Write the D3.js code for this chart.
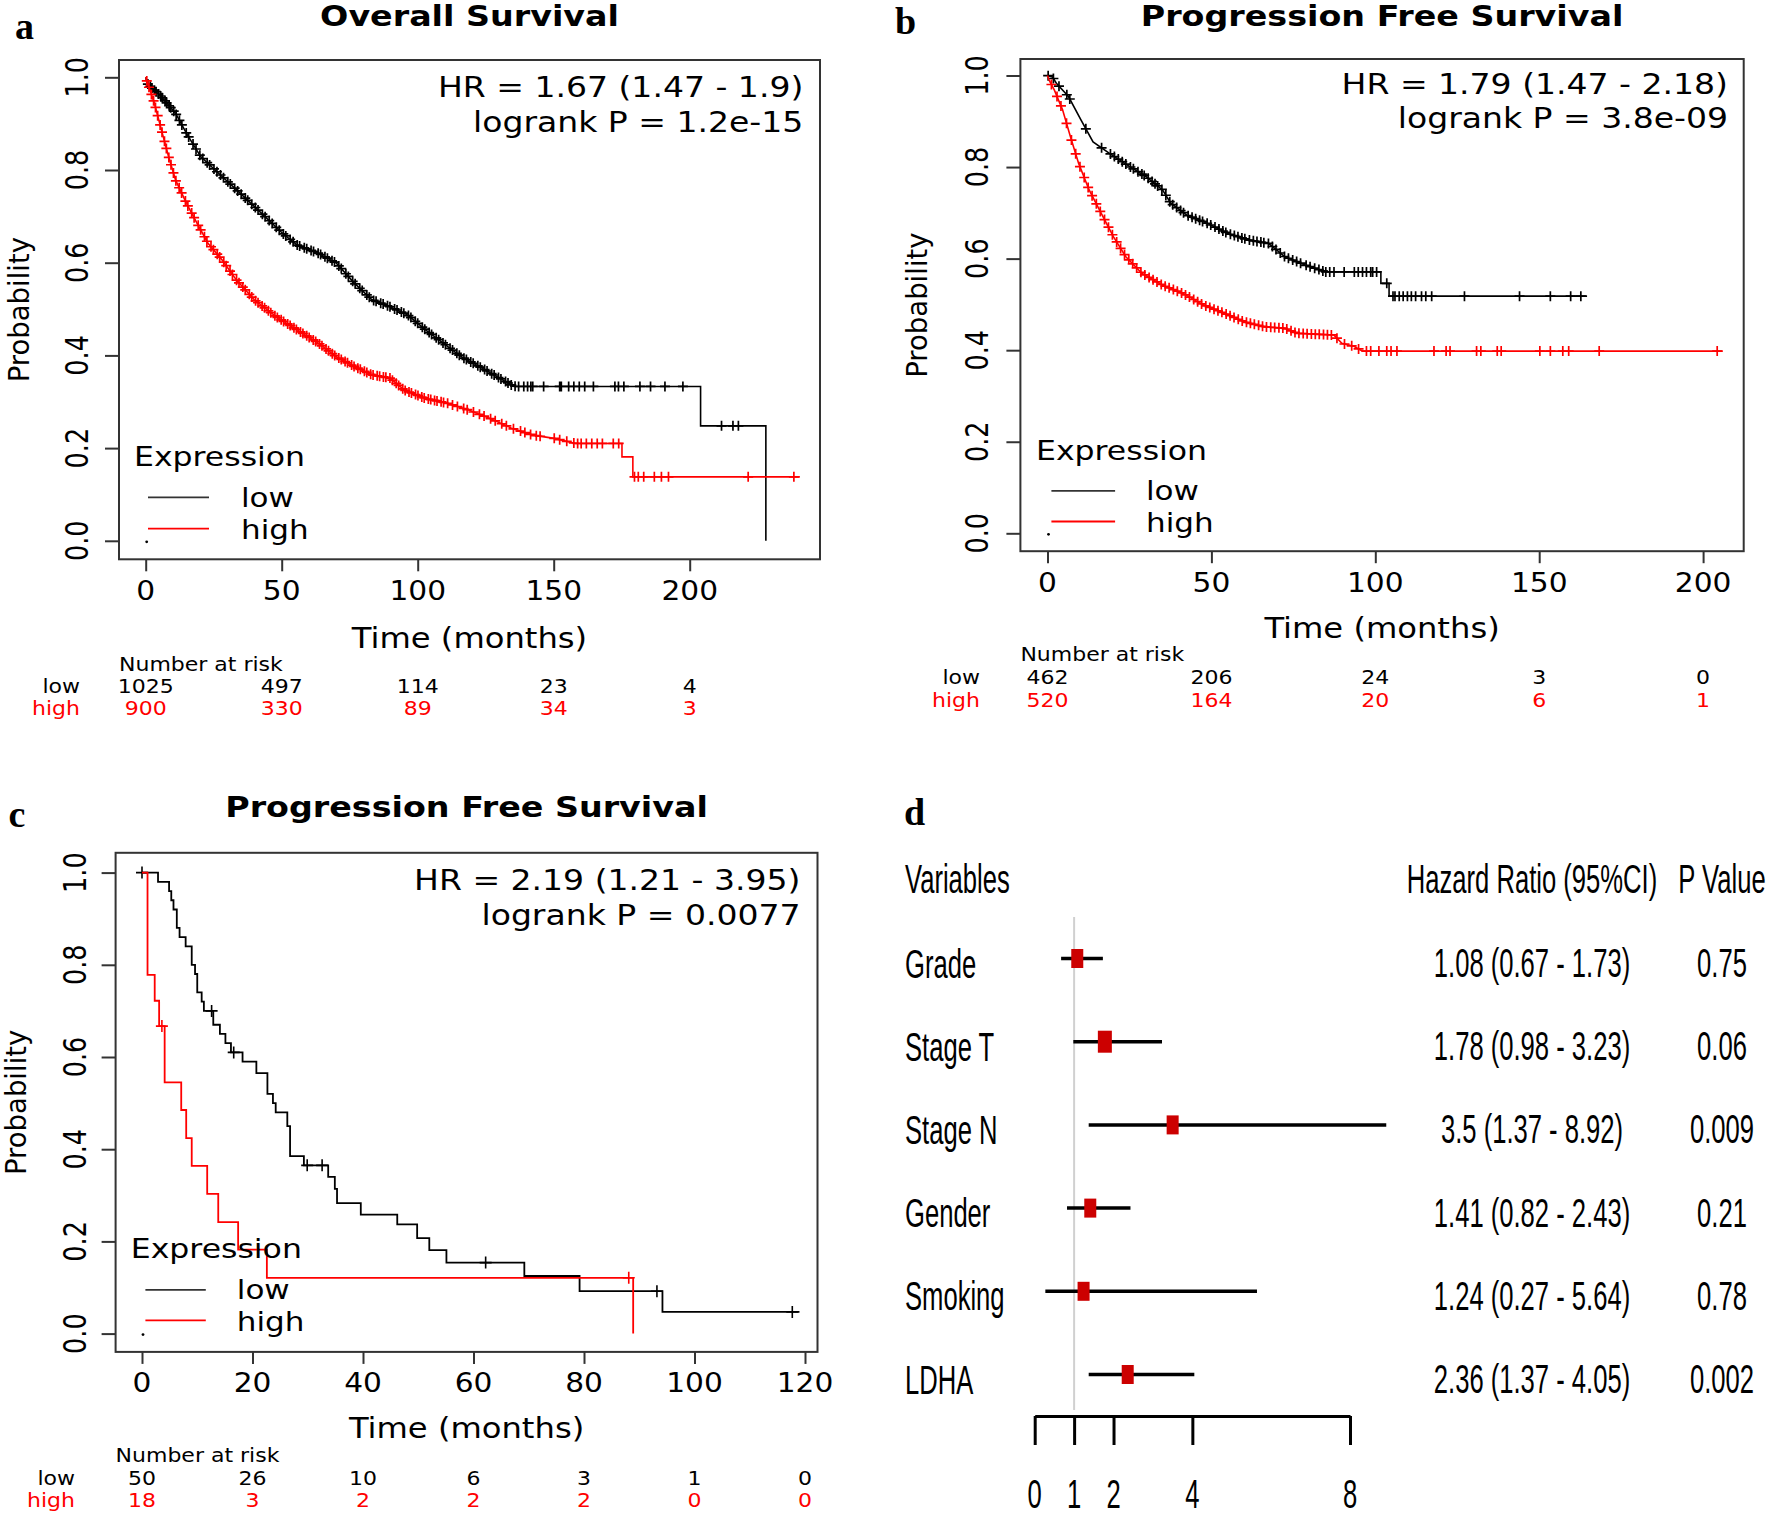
<!DOCTYPE html>
<html><head><meta charset="utf-8">
<script src="https://cdn.jsdelivr.net/npm/d3@7"></script>
<style>body{margin:0;background:#fff}svg{display:block}</style>
</head><body>
<svg id="fig" width="1768" height="1517"></svg>
<script>
// ---------------- DATA ----------------
// Panel a: Overall Survival (time in months, survival probability)
const osLow = [[0,1],[0.5,0.987],[5.8,0.958],[11,0.922],[15,0.879],[20.2,0.829],[26.8,0.793],[34.7,0.75],[42.5,0.707],[50.4,0.663],[55.7,0.638],[63.6,0.62],[70.1,0.599],[76.7,0.556],[83.2,0.52],[89.8,0.505],[96.4,0.487],[102.9,0.455],[109.5,0.426],[116.1,0.397],[122.6,0.376],[129.2,0.354],[134.5,0.336],[136,0.333],[204,0.333],[204,0.248],[228,0.248],[228,0]];
const osHigh = [[0,1],[0.3,0.994],[3.2,0.944],[5.8,0.886],[8.4,0.829],[11,0.778],[15,0.728],[18.9,0.685],[22.9,0.642],[28.1,0.606],[33.3,0.563],[39.9,0.52],[47.8,0.484],[55.7,0.455],[63.6,0.426],[70.1,0.397],[76.7,0.376],[83.2,0.358],[89.8,0.351],[95.1,0.325],[102.9,0.307],[110.8,0.297],[118.7,0.282],[126.6,0.264],[134.5,0.243],[142.3,0.228],[150.2,0.221],[158.1,0.21],[175.1,0.21],[175.1,0.181],[179.1,0.181],[179.1,0.138],[240.5,0.138]];
const osLowCensor = [0.8,1.7,2.3,3.2,3.8,4.7,5.5,6.1,7.1,7.7,8.6,9.2,10.3,11.2,12.4,13.3,14.9,15.8,17.4,18.5,19.9,21.0,22.6,23.5,25.1,26.2,27.5,28.6,30.2,31.1,32.7,33.8,35.1,36.6,37.5,39.0,40.3,41.3,42.9,43.9,45.4,46.5,48.0,49.1,50.6,51.5,53.1,54.2,55.7,56.6,58.3,59.2,60.8,61.7,63.4,64.3,65.9,66.8,68.5,69.4,71.0,71.9,73.6,74.5,76.1,77.0,78.7,79.6,81.3,82.2,83.8,84.7,86.4,87.3,88.9,89.8,91.5,92.4,94.0,94.9,96.6,97.5,99.1,100.0,101.7,102.6,104.2,105.1,106.8,107.7,109.3,110.2,111.9,112.8,114.4,115.3,117.0,117.9,119.5,120.4,122.1,123.0,124.6,125.5,127.2,128.1,129.7,130.6,132.3,133.2,134.4,135.8,137.1,139.0,140.4,141.6,142.3,146.3,152.2,152.8,155.5,157.4,159.4,161.4,164.6,172.5,173.8,175.8,181.7,185.6,190.9,197.5,211.7,215.9,217.9];
const osHighCensor = [0.4,1.2,2.1,2.9,3.6,4.4,5.3,6.0,6.9,7.6,8.5,9.3,10.2,11.1,12.3,13.2,14.6,15.5,16.9,17.8,19.3,20.2,21.6,22.5,24.0,24.9,26.3,27.2,28.7,29.6,31.0,31.9,33.4,34.3,35.7,36.6,38.1,39.0,40.4,41.3,42.8,43.7,45.1,46.0,47.5,48.4,49.8,50.7,52.2,53.1,54.5,55.4,56.9,57.8,59.2,60.1,61.6,62.5,63.9,64.8,66.3,67.2,68.6,69.5,71.0,71.9,73.3,74.2,75.7,76.6,78.0,78.9,80.4,81.3,82.7,83.6,85.1,86.0,87.4,88.3,89.8,90.7,92.1,93.0,94.5,95.4,96.8,97.7,99.2,100.1,101.5,102.4,103.9,104.8,106.2,107.1,108.6,109.5,111.0,112.8,114.6,116.9,118.2,120.5,122.7,124.4,126.8,128.5,130.9,132.6,135.2,137.8,139.4,141.5,143.6,145.0,150.2,152.2,154.8,157.4,158.8,160.1,162.0,164.0,166.0,167.9,171.9,173.9,179.7,181.1,183.1,187.0,189.6,192.2,221.5,238.3];
const osTicks = [0,50,100,150,200];
const osRiskLow = [1025,497,114,23,4];
const osRiskHigh = [900,330,89,34,3];
const osStats = ["HR = 1.67 (1.47 - 1.9)", "logrank P = 1.2e-15"];

// Panel b: Progression Free Survival
const pfsLow = [[0,1],[1.5,0.997],[2.7,0.983],[6.4,0.954],[10.2,0.903],[13.9,0.855],[18.9,0.83],[25.1,0.801],[30.1,0.779],[35.1,0.75],[37.6,0.721],[42.5,0.695],[48.8,0.677],[55,0.655],[61.2,0.641],[67.5,0.633],[72.4,0.604],[78.6,0.586],[84.9,0.571],[101.7,0.571],[101.7,0.546],[104.2,0.546],[104.2,0.518],[164.6,0.518]];
const pfsHigh = [[0,1],[0.5,0.99],[2.1,0.968],[4.6,0.925],[7,0.866],[9.5,0.808],[12.7,0.75],[16.4,0.699],[20.1,0.648],[23.9,0.604],[28.8,0.568],[35.1,0.542],[41.3,0.524],[47.5,0.499],[53.8,0.481],[60,0.462],[66.2,0.451],[72.4,0.448],[76.1,0.437],[87.4,0.433],[89.8,0.415],[93.6,0.408],[96.1,0.398],[206,0.398]];
const pfsLowCensor = [0.2,1.8,3.5,5.9,6.8,11.7,16.5,19.2,20.4,21.6,22.8,23.9,25.3,26.2,27.6,28.8,29.5,30.7,31.9,32.8,33.6,34.9,36.1,37.3,38.2,39.4,40.6,41.5,42.9,44.1,45.2,46.4,47.3,48.7,49.8,51.1,52.3,53.5,54.4,55.8,57.0,58.1,59.3,60.2,61.6,62.8,63.9,65.1,66.0,67.4,68.6,69.7,71.0,72.3,73.5,74.8,76.0,77.2,78.9,80.1,81.5,82.8,84.0,84.9,86.1,87.4,90.5,93.6,94.8,96.1,97.3,98.6,99.2,100.4,103.5,105.4,106.0,107.3,108.5,109.8,111.0,112.3,114.1,115.4,117.2,127.2,144.0,153.4,159.6,162.7];
const pfsHighCensor = [1.2,2.9,4.1,5.8,7.3,8.6,9.9,11.2,12.4,13.6,14.9,16.1,17.4,18.6,19.8,21.1,22.3,23.5,24.8,26.0,27.2,28.5,29.7,31.0,32.2,33.4,34.7,35.9,37.1,38.4,39.6,40.9,42.1,43.3,44.6,45.8,47.0,48.3,49.5,50.8,52.0,53.2,54.5,55.7,56.9,58.2,59.4,60.7,61.9,63.1,64.4,65.6,66.8,68.1,69.3,70.6,71.8,73.0,74.3,75.5,76.7,78.0,79.2,80.5,81.7,82.9,84.2,85.4,86.6,88.3,90.6,92.8,94.9,97.3,98.6,101.1,103.5,104.8,106.6,117.9,121.6,122.8,130.9,132.2,137.2,138.4,150.2,153.4,157.2,159.0,168.3,204.3];
const pfsTicks = [0,50,100,150,200];
const pfsRiskLow = [462,206,24,3,0];
const pfsRiskHigh = [520,164,20,6,1];
const pfsStats = ["HR = 1.79 (1.47 - 2.18)", "logrank P = 3.8e-09"];

// Panel c: Progression Free Survival (step functions)
const cLowSteps = [[0,1],[2.9,0.98],[4.9,0.96],[5.3,0.94],[5.7,0.92],[6.3,0.88],[6.8,0.86],[7.9,0.84],[9.0,0.80],[9.6,0.78],[10.0,0.74],[10.8,0.72],[11.2,0.70],[12.9,0.67],[14.1,0.65],[15.1,0.63],[16.1,0.61],[18.2,0.59],[20.7,0.565],[22.7,0.52],[23.7,0.50],[24.2,0.48],[26.3,0.45],[26.8,0.385],[29.3,0.365],[33.7,0.34],[34.9,0.314],[35.3,0.283],[39.6,0.258],[46.2,0.237],[49.8,0.207],[52.0,0.181],[55.1,0.154],[69.2,0.125],[79.2,0.092],[94.2,0.047],[119.0,0.047]];
const cHighSteps = [[0,1],[1,0.778],[2.3,0.722],[3.1,0.667],[4.1,0.545],[7.1,0.485],[8,0.424],[9,0.364],[11.8,0.303],[13.8,0.242],[17.4,0.182],[22.6,0.121],[88.9,0]];
const cLowCensor = [0,12.6,16.6,29.9,32.6,62.2,93.2,117.7];
const cHighCensor = [3.6,88.1];
const cTicks = [0,20,40,60,80,100,120];
const cRiskLow = [50,26,10,6,3,1,0];
const cRiskHigh = [18,3,2,2,2,0,0];
const cStats = ["HR = 2.19 (1.21 - 3.95)", "logrank P = 0.0077"];

const yTicks = [0,0.2,0.4,0.6,0.8,1.0];

// Panel d: forest plot
const variables = ["Grade","Stage T","Stage N","Gender","Smoking","LDHA"];
const hr =    [1.08, 1.78, 3.5, 1.41, 1.24, 2.36];
const lower = [0.67, 0.98, 1.37, 0.82, 0.27, 1.37];
const upper = [1.73, 3.23, 8.92, 2.43, 5.64, 4.05];
const pValues = ["0.75","0.06","0.009","0.21","0.78","0.002"];
const forestTicks = [0,1,2,4,8];

// ---------------- DRAWING ----------------
const svg = d3.select("#fig");
const RED = "#ff0000";

function T(g, x, y, s, o) {
  o = o || {};
  return g.append("text").text(s)
    .attr("font-family", o.family || "DejaVu Sans")
    .attr("font-size", o.size || 20)
    .attr("font-weight", o.weight || "normal")
    .attr("fill", o.fill || "#000")
    .attr("text-anchor", o.anchor || "start")
    .attr("transform", `translate(${x},${y})` + (o.rot ? ` rotate(${o.rot})` : "") + ` scale(${o.sx || 1},${o.sy || 1})`);
}

function survAt(pts, t, step) {
  if (step) {
    let s = pts[0][1];
    for (const p of pts) { if (p[0] <= t) s = p[1]; else break; }
    return s;
  }
  for (let i = 0; i < pts.length - 1; i++) {
    const a = pts[i], b = pts[i + 1];
    if (t >= a[0] && t <= b[0] && b[0] > a[0]) {
      return a[1] + (b[1] - a[1]) * (t - a[0]) / (b[0] - a[0]);
    }
  }
  return pts[pts.length - 1][1];
}

function kmPanel(p) {
  const g = svg.append("g");
  const x = d3.scaleLinear().domain(p.xDomain).range(p.xRange);
  const y = d3.scaleLinear().domain([0, 1]).range(p.yRange);
  const [bx0, by0, bx1, by1] = p.box;

  const xa = g.append("g").attr("transform", `translate(0,${by1})`)
    .call(d3.axisBottom(x).tickValues(p.xTicks).tickSize(12).tickSizeOuter(0).tickFormat(""));
  xa.select(".domain").remove();
  xa.selectAll("line").attr("stroke", "#333").attr("stroke-width", 2);
  const ya = g.append("g").attr("transform", `translate(${bx0},0)`)
    .call(d3.axisLeft(y).tickValues(yTicks).tickSize(14).tickSizeOuter(0).tickFormat(""));
  ya.select(".domain").remove();
  ya.selectAll("line").attr("stroke", "#333").attr("stroke-width", 2);

  p.xTicks.forEach(t => T(g, x(t), p.xLabY, String(t), { size: 26.5, sx: 1.12, anchor: "middle" }));
  yTicks.forEach(v => T(g, p.yLabX, y(v), v.toFixed(1), { size: 25.5, rot: -90, sy: 1.25, anchor: "middle" }));

  g.append("rect").attr("x", bx0).attr("y", by0).attr("width", bx1 - bx0).attr("height", by1 - by0)
    .attr("fill", "none").attr("stroke", "#333").attr("stroke-width", 2);

  const cx = (bx0 + bx1) / 2;
  T(g, cx, p.titleY, p.title, { size: 28, weight: "bold", sx: 1.19, anchor: "middle" });
  T(g, p.letter[0], p.letter[1], p.letter[2], { size: 38, weight: "bold", family: "Liberation Serif" });
  T(g, cx, p.xTitleY, "Time (months)", { size: 28, sx: 1.15, anchor: "middle" });
  T(g, p.yTitleX, (by0 + by1) / 2, "Probability", { size: 27.5, rot: -90, sy: 1.05, anchor: "middle" });
  p.stats.forEach((s, i) => T(g, p.statX, p.statY[i], s, { size: 29, sx: 1.14, anchor: "end" }));

  const line = d3.line().x(d => x(d[0])).y(d => y(d[1])).curve(p.step ? d3.curveStepAfter : d3.curveLinear);
  const curves = [
    { pts: p.low, cens: p.lowCens, color: "#000" },
    { pts: p.high, cens: p.highCens, color: RED }
  ];
  curves.forEach(c => {
    g.append("path").datum(c.pts).attr("d", line).attr("fill", "none")
      .attr("stroke", c.color).attr("stroke-width", p.lw);
    const m = p.mark;
    g.append("path").attr("fill", "none").attr("stroke", c.color).attr("stroke-width", p.markW)
      .attr("d", c.cens.map(t => {
        const px = x(t), py = y(survAt(c.pts, t, p.step));
        return `M${px - m / 2},${py}h${m}M${px},${py - m / 2}v${m}`;
      }).join(""));
  });

  T(g, p.leg.x, p.leg.y, "Expression", { size: 26.5, sx: 1.19 });
  [["low", "#333"], ["high", RED]].forEach((d, i) => {
    g.append("line").attr("x1", p.leg.lx[0]).attr("x2", p.leg.lx[1])
      .attr("y1", p.leg.ly[i]).attr("y2", p.leg.ly[i]).attr("stroke", d[1]).attr("stroke-width", 1.8);
    T(g, p.leg.tx, p.leg.ty[i], d[0], { size: 26.5, sx: 1.17 });
  });
  g.append("circle").attr("cx", x(0) + 1).attr("cy", y(0) + 1).attr("r", 1.4).attr("fill", "#000");

  T(g, bx0, p.risk.titleY, "Number at risk", { size: 20, sx: 1.1 });
  T(g, p.risk.labX, p.risk.rows[0], "low", { size: 20, sx: 1.1, anchor: "end" });
  T(g, p.risk.labX, p.risk.rows[1], "high", { size: 20, sx: 1.1, anchor: "end", fill: RED });
  p.xTicks.forEach((t, i) => {
    T(g, x(t), p.risk.rows[0], String(p.riskLow[i]), { size: 20, sx: 1.1, anchor: "middle" });
    T(g, x(t), p.risk.rows[1], String(p.riskHigh[i]), { size: 20, sx: 1.1, anchor: "middle", fill: RED });
  });
}

kmPanel({
  box: [119, 60, 820, 559.3], xDomain: [0, 200], xRange: [145.7, 689.7], yRange: [540.8, 77.3],
  xTicks: osTicks, xLabY: 600, yLabX: 88, xTitleY: 647.7, yTitleX: 29, titleY: 26,
  title: "Overall Survival", letter: [15, 39, "a"], stats: osStats, statX: 803.3, statY: [97, 132],
  low: osLow, high: osHigh, lowCens: osLowCensor, highCens: osHighCensor, step: false, lw: 1.6, mark: 10, markW: 1.7,
  leg: { x: 134, y: 466, lx: [148, 209], ly: [497.3, 528.7], tx: 241, ty: [507, 539] },
  riskLow: osRiskLow, riskHigh: osRiskHigh, risk: { titleY: 670.7, labX: 80, rows: [693.3, 715] }
});

kmPanel({
  box: [1020.4, 59, 1743.7, 551.2], xDomain: [0, 200], xRange: [1047.5, 1703.1], yRange: [533.3, 75.5],
  xTicks: pfsTicks, xLabY: 592, yLabX: 988, xTitleY: 638, yTitleX: 927, titleY: 26,
  title: "Progression Free Survival", letter: [895, 34, "b"], stats: pfsStats, statX: 1728, statY: [94.4, 128.4],
  low: pfsLow, high: pfsHigh, lowCens: pfsLowCensor, highCens: pfsHighCensor, step: false, lw: 1.6, mark: 10, markW: 1.7,
  leg: { x: 1036, y: 460, lx: [1051.4, 1115.1], ly: [490.8, 521.5], tx: 1146, ty: [500, 532] },
  riskLow: pfsRiskLow, riskHigh: pfsRiskHigh, risk: { titleY: 660.7, labX: 980, rows: [684.3, 706.5] }
});

kmPanel({
  box: [115.6, 852.8, 817.5, 1351.9], xDomain: [0, 120], xRange: [142, 805], yRange: [1333.6, 872.6],
  xTicks: cTicks, xLabY: 1392.3, yLabX: 86, xTitleY: 1437.9, yTitleX: 26, titleY: 816.7,
  title: "Progression Free Survival", letter: [8.5, 827, "c"], stats: cStats, statX: 800.5, statY: [890.4, 924.7],
  low: cLowSteps, high: cHighSteps, lowCens: cLowCensor, highCens: cHighCensor, step: true, lw: 1.8, mark: 12, markW: 1.6,
  leg: { x: 130.8, y: 1258, lx: [145.4, 205.8], ly: [1289.9, 1320.4], tx: 236.8, ty: [1299, 1330.8] },
  riskLow: cRiskLow, riskHigh: cRiskHigh, risk: { titleY: 1462.3, labX: 75, rows: [1485, 1507] }
});

// ---- Panel d: forest plot ----
(function () {
  const g = svg.append("g");
  const fx = d3.scaleLinear().domain([0, 8]).range([1034.7, 1350]);
  const fy = d3.scalePoint().domain(variables).range([958.5, 1374.5]);
  const F = { family: "Liberation Sans", size: 40, sx: 0.64 };

  T(g, 904, 825, "d", { size: 38, weight: "bold", family: "Liberation Serif" });
  T(g, 905, 893, "Variables", F);
  T(g, 1532, 893, "Hazard Ratio (95%CI)", Object.assign({ anchor: "middle" }, F));
  T(g, 1722, 893, "P Value", Object.assign({ anchor: "middle" }, F));

  g.append("line").attr("x1", fx(1)).attr("x2", fx(1)).attr("y1", 917).attr("y2", 1410)
    .attr("stroke", "#d0d0d0").attr("stroke-width", 2);

  const ax = g.append("g").attr("transform", "translate(0,1416)")
    .call(d3.axisBottom(fx).tickValues(forestTicks).tickSize(29).tickSizeOuter(0).tickFormat(""));
  ax.select(".domain").attr("stroke", "#000").attr("stroke-width", 3);
  ax.selectAll("line").attr("stroke", "#000").attr("stroke-width", 3);
  forestTicks.forEach(t => T(g, fx(t), 1507.5, String(t), Object.assign({ anchor: "middle" }, F)));

  variables.forEach((v, i) => {
    const yy = fy(v);
    T(g, 905, yy + 19, v, F);
    g.append("line").attr("x1", fx(lower[i])).attr("x2", fx(upper[i])).attr("y1", yy).attr("y2", yy)
      .attr("stroke", "#000").attr("stroke-width", 3.5);
    const w = v === "Stage T" ? 14 : 12, h = v === "Stage T" ? 22 : 19;
    g.append("rect").attr("x", fx(hr[i]) - w / 2).attr("y", yy - h / 2).attr("width", w).attr("height", h)
      .attr("fill", "#cc0000");
    T(g, 1532, yy + 18.5, `${hr[i]} (${lower[i]} - ${upper[i]})`, Object.assign({ anchor: "middle" }, F));
    T(g, 1722, yy + 18.5, pValues[i], Object.assign({ anchor: "middle" }, F));
  });
})();
</script>
</body></html>
